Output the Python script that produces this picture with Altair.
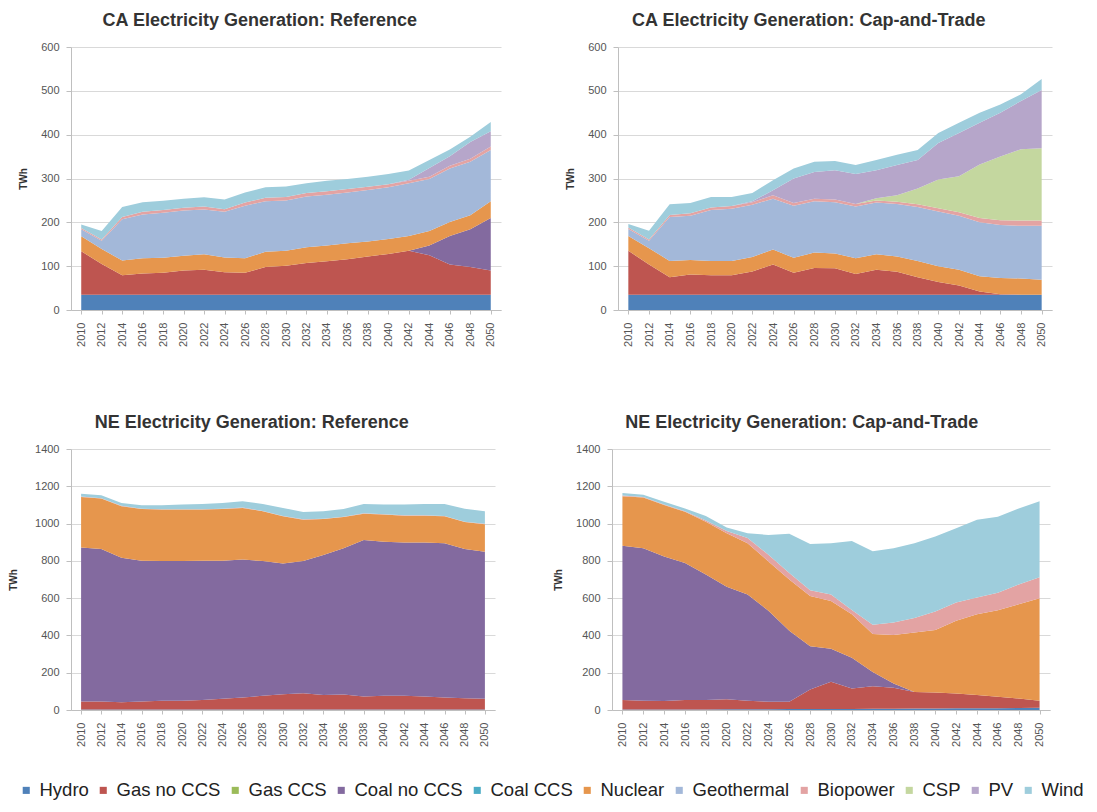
import altair as alt
import pandas as pd

FONT = "Liberation Sans, Arial, sans-serif"

years = [str(y) for y in range(2010, 2051, 2)]
series = ["Hydro", "Gas no CCS", "Gas CCS", "Coal no CCS", "Coal CCS", "Nuclear",
          "Geothermal", "Biopower", "CSP", "PV", "Wind"]
colors = ["#4F81B9", "#BE5550", "#9BBB59", "#836A9F", "#4BACC6", "#E6964D",
          "#A3B8D9", "#E3A3A3", "#C4D79F", "#B6A6CA", "#9ECDDC"]

# ---- CA Reference (TWh) ----
ca_ref_hydro = [35] * 21
ca_ref_gas = [99, 70, 44, 48, 50, 55, 57, 51, 50, 63, 66, 72, 76, 81, 87, 93, 100, 90, 69, 63, 55]
ca_ref_coal = [0] * 17 + [22, 65, 86, 120]
ca_ref_nuclear = [34, 34, 34, 35, 34, 34, 35, 34, 33, 35, 34, 36, 36, 36, 34, 34, 34, 33, 32, 32, 38]
ca_ref_geo = [16, 19, 94, 100, 103, 103, 102, 104, 120, 115, 115, 116, 116, 116, 118, 118, 120, 119, 122, 122, 117]
ca_ref_bio = [3, 3, 5, 6, 6, 6, 7, 6, 7, 8, 8, 8, 8, 8, 7, 7, 6, 5, 6, 7, 8]
ca_ref_pv = [0] * 16 + [2, 20, 22, 38, 35]
ca_ref_wind = [8, 19, 23, 22, 21, 21, 21, 22, 23, 24, 24, 22, 24, 23, 23, 23, 21, 18, 15, 12, 21]

# ---- CA Cap-and-Trade (TWh) ----
ca_ct_hydro = [35] * 21
ca_ct_gas = [100, 69, 40, 46, 44, 44, 53, 69, 50, 61, 60, 47, 57, 52, 40, 29, 21, 7, 1, 0, 0]
ca_ct_nuclear = [34, 37, 37, 33, 33, 33, 33, 34, 34, 35, 34, 36, 35, 35, 37, 36, 36, 35, 37, 37, 34]
ca_ct_geo = [16, 17, 100, 101, 116, 119, 119, 116, 119, 117, 117, 118, 118, 120, 123, 125, 123, 123, 121, 120, 123]
ca_ct_bio = [3, 3, 5, 6, 6, 6, 6, 8, 6, 6, 6, 6, 5, 5, 6, 7, 8, 10, 11, 12, 12]
ca_ct_csp = [0] * 12 + [5, 15, 36, 66, 82, 122, 145, 163, 165]
ca_ct_pv = [0, 0, 0, 0, 0, 0, 2, 11, 56, 61, 67, 68, 64, 69, 65, 83, 99, 95, 100, 110, 133]
ca_ct_wind = [8, 20, 24, 23, 24, 21, 19, 23, 23, 23, 21, 21, 23, 23, 23, 23, 23, 23, 19, 15, 25]

# ---- NE Reference (TWh) ----
ne_ref_hydro = [3] * 21
ne_ref_gas = [42, 42, 39, 42, 46, 46, 51, 57, 64, 73, 82, 87, 78, 80, 69, 73, 73, 69, 64, 60, 57]
ne_ref_coal = [827, 818, 774, 755, 750, 750, 746, 740, 740, 723, 701, 709, 750, 784, 840, 827, 822, 826, 827, 800, 789]
ne_ref_nuclear = [271, 271, 277, 278, 276, 276, 275, 278, 277, 267, 253, 222, 193, 168, 141, 145, 144, 144, 145, 145, 148]
ne_ref_bio = [2] * 21
ne_ref_wind = [15, 16, 16, 18, 21, 25, 28, 31, 34, 37, 43, 39, 40, 41, 50, 52, 58, 61, 64, 70, 67]

# ---- NE Cap-and-Trade (TWh) ----
ne_ct_hydro = [3, 3, 3, 3, 3, 4, 4, 4, 5, 5, 6, 6, 7, 7, 8, 8, 9, 10, 10, 11, 12]
ne_ct_gas = [50, 47, 45, 50, 50, 53, 46, 40, 39, 105, 145, 109, 121, 113, 89, 86, 80, 70, 61, 51, 38]
ne_ct_coal = [828, 818, 776, 736, 674, 604, 570, 488, 381, 232, 177, 165, 76, 22, 0, 0, 0, 0, 0, 0, 0]
ne_ct_nuclear = [266, 272, 275, 274, 283, 287, 275, 265, 275, 269, 257, 234, 204, 260, 319, 335, 390, 434, 464, 505, 549]
ne_ct_bio = [3, 3, 3, 3, 6, 12, 27, 36, 35, 32, 35, 23, 49, 68, 77, 99, 97, 89, 94, 106, 113]
ne_ct_wind = [14, 12, 15, 15, 25, 19, 26, 106, 210, 247, 275, 370, 394, 398, 402, 402, 399, 417, 408, 408, 408]

Z = [0] * 21


def frame(d):
    rows = []
    for k, s in enumerate(series):
        vals = d.get(s, Z)
        for i, y in enumerate(years):
            rows.append({"year": y, "series": s, "order": k, "value": vals[i]})
    return pd.DataFrame(rows)


ca_ref = frame({"Hydro": ca_ref_hydro, "Gas no CCS": ca_ref_gas, "Coal no CCS": ca_ref_coal,
                "Nuclear": ca_ref_nuclear, "Geothermal": ca_ref_geo, "Biopower": ca_ref_bio,
                "PV": ca_ref_pv, "Wind": ca_ref_wind})
ca_ct = frame({"Hydro": ca_ct_hydro, "Gas no CCS": ca_ct_gas, "Nuclear": ca_ct_nuclear,
               "Geothermal": ca_ct_geo, "Biopower": ca_ct_bio, "CSP": ca_ct_csp,
               "PV": ca_ct_pv, "Wind": ca_ct_wind})
ne_ref = frame({"Hydro": ne_ref_hydro, "Gas no CCS": ne_ref_gas, "Coal no CCS": ne_ref_coal,
                "Nuclear": ne_ref_nuclear, "Biopower": ne_ref_bio, "Wind": ne_ref_wind})
ne_ct = frame({"Hydro": ne_ct_hydro, "Gas no CCS": ne_ct_gas, "Coal no CCS": ne_ct_coal,
               "Nuclear": ne_ct_nuclear, "Biopower": ne_ct_bio, "Wind": ne_ct_wind})

legend = alt.Legend(orient="none", legendX=-54, legendY=734, direction="horizontal", title=None,
                    symbolType="square", symbolSize=50, symbolStrokeWidth=0,
                    labelFontSize=18.5, labelFont=FONT, labelColor="#222222",
                    columnPadding=5, labelOffset=4, labelLimit=300)


def panel(df, title, ymax, step, w, h, tpad):
    return alt.Chart(df).mark_area(interpolate="linear", opacity=1).encode(
        x=alt.X("year:O", scale=alt.Scale(type="point", padding=0.5),
                axis=alt.Axis(title=None, labelAngle=270, labelFontSize=11, labelFont=FONT,
                              labelColor="#555555", domainColor="#BFBFBF", tickColor="#BFBFBF",
                              tickSize=4, labelPadding=8, grid=False)),
        y=alt.Y("value:Q", stack="zero", scale=alt.Scale(domain=[0, ymax], nice=False),
                axis=alt.Axis(title="TWh", values=list(range(0, ymax + 1, step)), format="d",
                              titleFontSize=10, titleFont=FONT, titleFontWeight="bold",
                              titleColor="#333333", titlePadding=tpad,
                              labelFontSize=11, labelFont=FONT, labelColor="#555555",
                              labelPadding=7, tickSize=5, tickColor="#BFBFBF",
                              domainColor="#BFBFBF", gridColor="#D9D9D9")),
        color=alt.Color("series:N", scale=alt.Scale(domain=series, range=colors), legend=legend),
        order=alt.Order("order:Q"),
    ).properties(
        width=w, height=h,
        title=alt.TitleParams(title, frame="bounds", anchor="middle", fontSize=18, font=FONT,
                              fontWeight="bold", color="#333333", offset=11),
    )


p1 = panel(ca_ref, "CA Electricity Generation: Reference", 600, 100, 430, 263, 12)
p2 = panel(ca_ct, "CA Electricity Generation: Cap-and-Trade", 600, 100, 434, 263, 12)
p3 = panel(ne_ref, "NE Electricity Generation: Reference", 1400, 200, 424, 261, 16)
p4 = panel(ne_ct, "NE Electricity Generation: Cap-and-Trade", 1400, 200, 438, 261, 12)

row1 = alt.hconcat(p1, p2, spacing=64)
row2 = alt.hconcat(p3, p4, spacing=58)

chart = alt.vconcat(row1, row2, spacing=67).properties(
    padding={"left": 0, "top": 4, "right": 4, "bottom": 0},
    background="white",
).configure_view(stroke=None)

chart.save("out.html", embed_options={"renderer": "svg", "actions": False})
